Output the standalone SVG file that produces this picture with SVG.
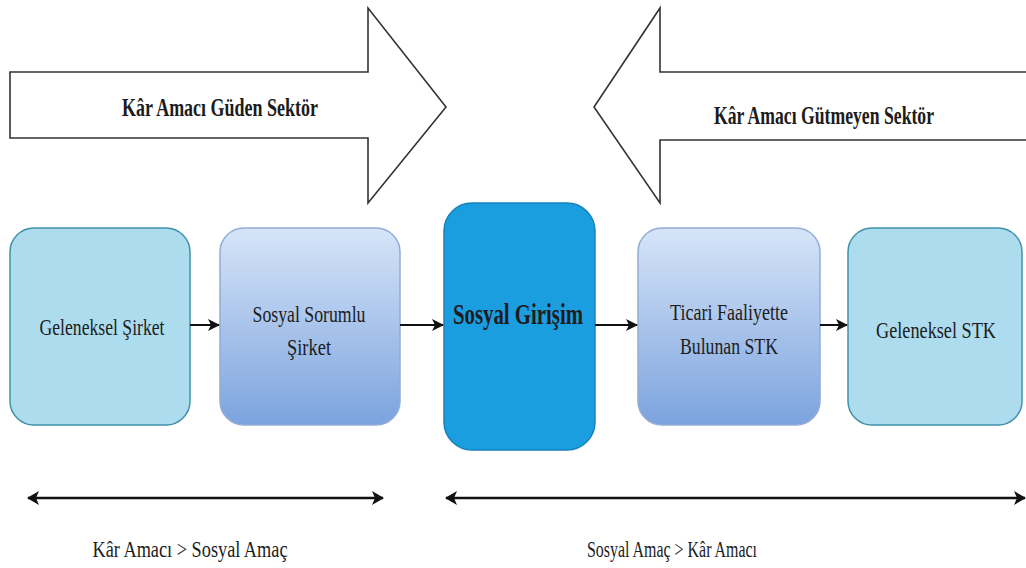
<svg xmlns="http://www.w3.org/2000/svg" width="1026" height="568" viewBox="0 0 1026 568">
  <style>
    .t { font-family: "Liberation Serif", "Times New Roman", serif; fill: #1c1c1c; text-anchor: middle; }
    .big { font-size: 26px; font-weight: bold; }
    .lbl { font-size: 24px; }
    .blk { stroke: #333; stroke-width: 1.6; stroke-linejoin: miter; }
    .cn { fill: none; stroke: #111; stroke-width: 2; }
    .rng { fill: none; stroke: #111; stroke-width: 2.5; }
  </style>
  <defs>
    <linearGradient id="gBlue" x1="0" y1="0" x2="0" y2="1">
      <stop offset="0" stop-color="#d6e5f8"/>
      <stop offset="1" stop-color="#7ca3de"/>
    </linearGradient>
    <marker id="ah" viewBox="0 0 12 12" refX="11" refY="6" markerWidth="12" markerHeight="12" markerUnits="userSpaceOnUse" orient="auto-start-reverse">
      <path d="M0,0 L12,6 L0,12 L3,6 z" fill="#111"/>
    </marker>
    <marker id="ah2" viewBox="0 0 12 14" refX="11" refY="7" markerWidth="12" markerHeight="14" markerUnits="userSpaceOnUse" orient="auto-start-reverse">
      <path d="M0,0 L12,7 L0,14 L3,7 z" fill="#111"/>
    </marker>
  </defs>

  <rect width="1026" height="568" fill="#ffffff"/>

  <!-- sector block arrows -->
  <g id="sector-profit">
    <path class="blk" d="M10,72 L368,72 L368,8 L446,107 L368,203 L368,138 L10,138 Z" fill="#ffffff"/>
    <text class="t big" x="220" y="116" textLength="196" lengthAdjust="spacingAndGlyphs">Kâr Amacı Güden Sektör</text>
  </g>
  <g id="sector-nonprofit">
    <!-- body runs out to the right border, so the path is left open there -->
    <path class="blk" d="M1026,72 L660,72 L660,8 L594,107 L660,203 L660,140 L1026,140" fill="#ffffff"/>
    <text class="t big" transform="translate(824,124) scale(0.68,1)" x="0" y="0">Kâr Amacı Gütmeyen Sektör</text>
  </g>

  <!-- organisation types -->
  <g id="geleneksel-sirket">
    <rect x="10" y="228" width="180" height="197" rx="24" fill="#aedcef" stroke="#3f93a8" stroke-width="1.5"/>
    <text class="t lbl" x="102" y="335" textLength="125" lengthAdjust="spacingAndGlyphs">Geleneksel Şirket</text>
  </g>
  <g id="sosyal-sorumlu-sirket">
    <rect x="220" y="228" width="180" height="197" rx="24" fill="url(#gBlue)" stroke="#93acd6" stroke-width="1.5"/>
    <text class="t lbl" x="309" y="322" textLength="113" lengthAdjust="spacingAndGlyphs">Sosyal Sorumlu</text>
    <text class="t lbl" x="309" y="355" textLength="44" lengthAdjust="spacingAndGlyphs">Şirket</text>
  </g>
  <g id="sosyal-girisim">
    <rect x="444" y="203" width="151" height="247" rx="28" fill="#1b9ee0" stroke="#1782bd" stroke-width="1.5"/>
    <text class="t" x="518" y="324" font-size="30" font-weight="bold" textLength="130" lengthAdjust="spacingAndGlyphs">Sosyal Girişim</text>
  </g>
  <g id="ticari-stk">
    <rect x="638" y="228" width="182" height="197" rx="24" fill="url(#gBlue)" stroke="#93acd6" stroke-width="1.5"/>
    <text class="t lbl" x="729" y="320" textLength="118" lengthAdjust="spacingAndGlyphs">Ticari Faaliyette</text>
    <text class="t lbl" x="729" y="354" textLength="98" lengthAdjust="spacingAndGlyphs">Bulunan STK</text>
  </g>
  <g id="geleneksel-stk">
    <rect x="848" y="228" width="174" height="197" rx="24" fill="#aedcef" stroke="#3f93a8" stroke-width="1.5"/>
    <text class="t lbl" transform="translate(936,338) scale(0.76,1)" x="0" y="0">Geleneksel STK</text>
  </g>

  <!-- flow connectors and range arrows -->
  <g id="connectors">
    <line class="cn" x1="190" y1="325" x2="219" y2="325" marker-end="url(#ah)"/>
    <line class="cn" x1="400" y1="325" x2="443" y2="325" marker-end="url(#ah)"/>
    <line class="cn" x1="595" y1="325" x2="637" y2="325" marker-end="url(#ah)"/>
    <line class="cn" x1="820" y1="325" x2="847" y2="325" marker-end="url(#ah)"/>
    <line class="rng" x1="28" y1="498" x2="383" y2="498" marker-start="url(#ah2)" marker-end="url(#ah2)"/>
    <line class="rng" x1="446" y1="498" x2="1025" y2="498" marker-start="url(#ah2)" marker-end="url(#ah2)"/>
  </g>

  <g id="range-labels">
    <text class="t lbl" x="190" y="557" textLength="195" lengthAdjust="spacingAndGlyphs">Kâr Amacı &gt; Sosyal Amaç</text>
    <text class="t lbl" x="672" y="557" textLength="170" lengthAdjust="spacingAndGlyphs">Sosyal Amaç &gt; Kâr Amacı</text>
  </g>
</svg>
